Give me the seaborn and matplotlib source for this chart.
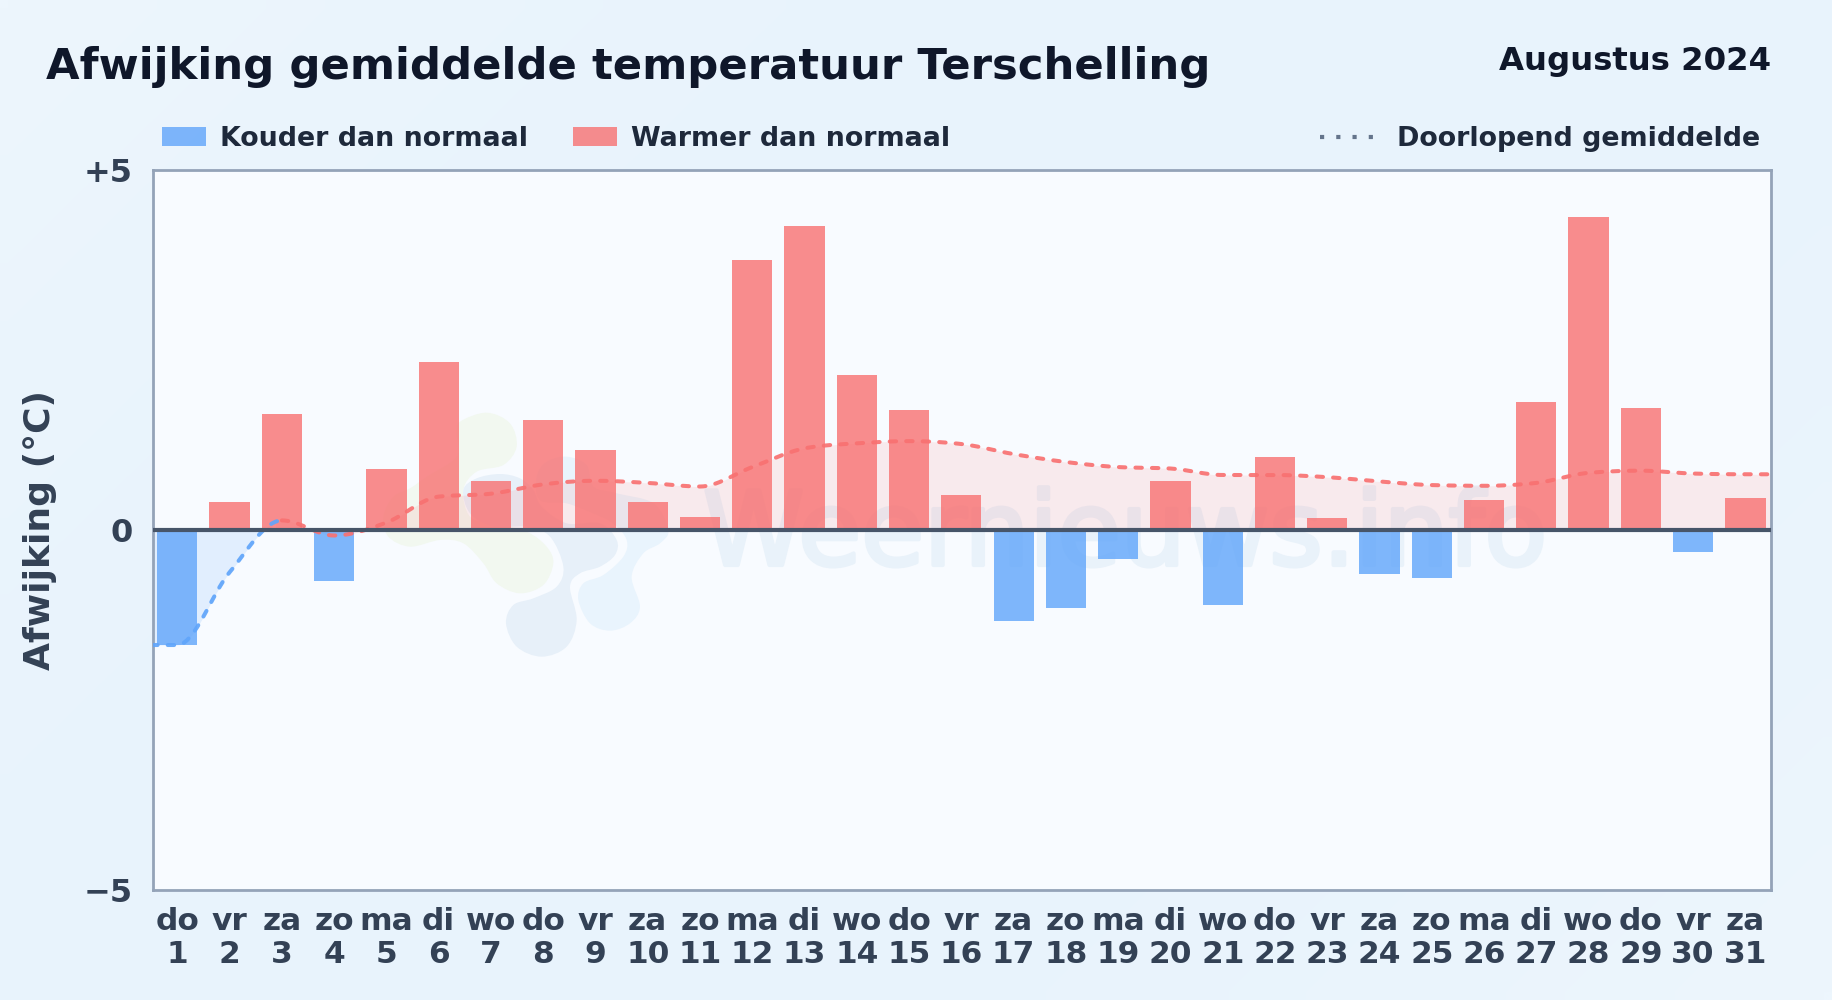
import numpy as np
import pandas as pd
import matplotlib
matplotlib.use("Agg")
import matplotlib.pyplot as plt
import seaborn as sns
from matplotlib.lines import Line2D
from matplotlib.patches import Patch, PathPatch
from matplotlib.path import Path
from matplotlib.transforms import Affine2D
import matplotlib.patheffects as pe

weekdays = ["do","vr","za","zo","ma","di","wo","do","vr","za","zo","ma","di","wo","do","vr",
            "za","zo","ma","di","wo","do","vr","za","zo","ma","di","wo","do","vr","za"]
days = list(range(1, 32))
deviation = [-1.60, 0.38, 1.61, -0.71, 0.85, 2.33, 0.67, 1.52, 1.11, 0.38, 0.18, 3.75, 4.22, 2.15, 1.66, 0.48,
             -1.26, -1.08, -0.41, 0.67, -1.05, 1.01, 0.17, -0.61, -0.67, 0.41, 1.77, 4.34, 1.69, -0.31, 0.44]
running = [-1.60, -0.59, 0.13, -0.08, 0.10, 0.46, 0.50, 0.63, 0.68, 0.65, 0.60, 0.87, 1.13, 1.20, 1.23, 1.19,
           1.05, 0.94, 0.87, 0.85, 0.76, 0.76, 0.73, 0.67, 0.62, 0.61, 0.65, 0.79, 0.82, 0.78, 0.77]

BLUE, RED = "#60a5fa", "#f87171"
W, H = 1832, 1000
L, R, T, B = 152.5, 1771, 169.5, 890


def monotone(xs, ys, n=16):
    """Monotone cubic drawing of a polyline (only shapes the line between the given points)."""
    xs, ys = np.asarray(xs, float), np.asarray(ys, float)
    h = np.diff(xs)
    s = np.diff(ys) / h
    m = np.zeros_like(ys)
    for i in range(1, len(ys) - 1):
        if s[i - 1] * s[i] > 0:
            p = (s[i - 1] * h[i] + s[i] * h[i - 1]) / (h[i] + h[i - 1])
            m[i] = np.sign(s[i]) * min(abs(s[i - 1]), abs(s[i]), 0.5 * abs(p)) * 2
    m[0], m[-1] = s[0], s[-1]
    ox, oy = [], []
    for i in range(len(h)):
        t = np.linspace(0, 1, n, endpoint=False)
        ox.append(xs[i] + t * h[i])
        oy.append((2*t**3 - 3*t**2 + 1) * ys[i] + (t**3 - 2*t**2 + t) * h[i] * m[i]
                  + (-2*t**3 + 3*t**2) * ys[i + 1] + (t**3 - t**2) * h[i] * m[i + 1])
    ox.append(xs[-1:]); oy.append(ys[-1:])
    return np.concatenate(ox), np.concatenate(oy)


def blob(points):
    """Closed smooth path (Catmull-Rom) through pixel points."""
    p = np.asarray(points, float)
    n = len(p)
    verts, codes = [p[0]], [Path.MOVETO]
    for i in range(n):
        p0, p1, p2, p3 = p[i - 1], p[i], p[(i + 1) % n], p[(i + 2) % n]
        verts += [p1 + (p2 - p0) / 6, p2 - (p3 - p1) / 6, p2]
        codes += [Path.CURVE4] * 3
    return Path(np.array(verts), codes)


sns.set_theme(style="white")
plt.rcParams["font.family"] = ["DejaVu Sans"]

fig = plt.figure(figsize=(W / 100, H / 100), dpi=100)

# page background
bg = fig.add_axes([0, 0, 1, 1], zorder=-5)
yy, xx = np.mgrid[0:1:60j, 0:1:110j]
d = np.clip((xx + yy * 0.55) / 1.55, 0, 1)
g = np.abs(d - 0.5) * 2
c0, c1 = np.array([0xed, 0xf6, 0xfd]) / 255, np.array([0xe8, 0xf3, 0xfc]) / 255
bg.imshow((c1 + (c0 - c1) * (g[..., None] ** 2)), aspect="auto", interpolation="bilinear")
bg.axis("off")

ax = fig.add_axes([L / W, 1 - B / H, (R - L) / W, (B - T) / H])
ax.set_facecolor("#f8fbff")

# watermark
px = Affine2D().scale(1, -1).translate(0, H)
zoomed = lambda pts: [(360 + x / 3, 390 + y / 3) for x, y in pts]
green = [(300,95),(380,68),(450,100),(470,170),(430,225),(350,245),(310,300),(330,380),(400,400),(500,425),
         (560,470),(580,520),(550,585),(480,610),(410,580),(370,520),(310,460),(240,450),(150,470),(85,440),
         (70,380),(100,320),(150,295),(200,260),(290,200),(290,130)]
slate = [(310,300),(350,265),(420,252),(480,265),(520,300),(545,350),(620,400),(720,400),(770,450),(765,495),
         (720,530),(660,550),(630,590),(650,690),(620,770),(545,800),(470,770),(438,700),(460,645),(520,625),
         (590,590),(610,530),(570,440),(500,410),(400,410),(330,370)]
sky = [(560,215),(620,200),(680,225),(700,290),(770,310),(880,340),(925,420),(900,460),(850,490),(815,560),
       (840,650),(810,700),(750,722),(690,700),(655,630),(670,580),(730,555),(790,500),(800,450),(760,400),
       (700,370),(620,340),(540,330),(530,260)]
for pts, col in [(green, "#f2f8f0"), (slate, "#e7f0f9"), (sky, "#e9f4fd")]:
    ax.add_patch(PathPatch(blob(zoomed(pts)), transform=px, facecolor=col, edgecolor="none", zorder=0.5))
ax.text(703, 565, "Weernieuws.info", transform=px, fontsize=73.7, color="#e9f2fa", ha="left", va="baseline",
        zorder=0.6, path_effects=[pe.withStroke(linewidth=3, foreground="#e9f2fa")])

# bars
labels = [f"{w}\n{d_}" for w, d_ in zip(weekdays, days)]
df = pd.DataFrame({"label": labels, "value": deviation,
                   "kind": ["warm" if v >= 0 else "koud" for v in deviation]})
sns.barplot(data=df, x="label", y="value", hue="kind", dodge=False, width=0.77, saturation=1,
            palette={"warm": RED, "koud": BLUE}, hue_order=["koud", "warm"], alpha=0.8, legend=False,
            order=labels, ax=ax, zorder=2, edgecolor="none", linewidth=0)

# running mean
pos = list(range(len(days)))
lx = [-0.5] + pos + [30.5]
ly = [running[0]] + running + [running[-1]]
cx, cy = monotone(lx, ly)
split = 2.0
cross = 1.85
ax.fill_between(cx, cy, 0, where=cx <= cross, color=BLUE, alpha=0.15, lw=0, zorder=1.5)
ax.fill_between(cx, cy, 0, where=cx >= cross, color=RED, alpha=0.12, lw=0, zorder=1.5)
dash = dict(lw=2.9, alpha=0.92, dash_capstyle="round", dash_joinstyle="round", dashes=(1.6, 2.5), zorder=3)
ax.plot(cx[cx <= split], cy[cx <= split], color=BLUE, **dash)
ax.plot(cx[cx >= split], cy[cx >= split], color=RED, **dash)

ax.axhline(0, color="#475569", lw=3, zorder=4)

ax.set_xlim(-0.475, 30.49)
ax.set_ylim(-5, 5)
ax.set_yticks([-5, 0, 5], ["\u22125", "0", "+5"])
ax.set_xlabel("")
ax.set_ylabel("Afwijking (°C)", fontsize=26, fontweight="bold", color="#334155", labelpad=0)
ax.yaxis.set_label_coords((57 - L) / (R - L), 0.5)
ax.tick_params(axis="both", length=0, labelcolor="#334155")
ax.tick_params(axis="x", labelsize=22.5, pad=12.5)
ax.tick_params(axis="y", labelsize=23, pad=14)
for t in ax.get_xticklabels() + ax.get_yticklabels():
    t.set_fontweight("bold")
    t.set_linespacing(1.16)
for s in ax.spines.values():
    s.set_visible(True)
    s.set_color("#94a3b8")
    s.set_linewidth(2)

# header
fig.text(46 / W, 1 - 79 / H, "Afwijking gemiddelde temperatuur Terschelling", fontsize=31.2, fontweight="bold",
         color="#0f172a", ha="left", va="baseline")
fig.text(1771 / W, 1 - 70 / H, "Augustus 2024", fontsize=23.3, fontweight="bold", color="#0f172a",
         ha="right", va="baseline")

# legends
fs = 19.4
lk = dict(frameon=False, borderpad=0, borderaxespad=0, labelcolor="#1e293b",
          prop={"weight": "bold", "size": fs})
fig.legend(handles=[Patch(color=BLUE, alpha=0.8, lw=0, label="Kouder dan normaal"),
                    Patch(color=RED, alpha=0.8, lw=0, label="Warmer dan normaal")],
           loc="center left", bbox_to_anchor=(162 / W, 1 - 139 / H), ncol=2,
           handlelength=1.64, handleheight=0.71, handletextpad=0.5, columnspacing=1.68, **lk)
fig.legend(handles=[Line2D([], [], color="#64748b", lw=3, dashes=(1, 2.9), dash_capstyle="butt",
                           label="Doorlopend gemiddelde")],
           loc="center right", bbox_to_anchor=(1760 / W, 1 - 139 / H),
           handlelength=2.09, handletextpad=0.78, **lk)

fig.savefig("out.png", dpi=100, facecolor="#e9f4fd")
